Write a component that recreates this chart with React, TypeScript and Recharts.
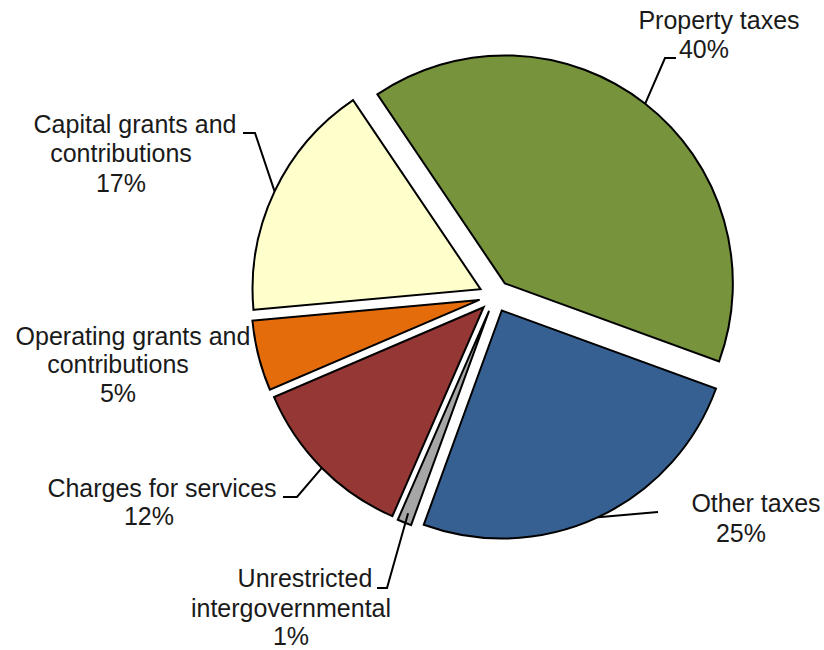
import React from "react";
import { PieChart, Pie, Cell, Sector } from "recharts";

// revenue sources, clockwise from the top
const sources = [
  "Property taxes",
  "Other taxes",
  "Unrestricted intergovernmental",
  "Charges for services",
  "Operating grants and contributions",
  "Capital grants and contributions",
];
const shares = [40, 25, 1, 12, 5, 17];
const labelText = [
  ["Property taxes"],
  ["Other taxes"],
  ["Unrestricted", "intergovernmental"],
  ["Charges for services"],
  ["Operating grants and", "contributions"],
  ["Capital grants and", "contributions"],
];

const colors = ["#77933C", "#376092", "#A6A6A6", "#953735", "#E46C0A", "#FFFFCC"];

const data = sources.map((name, i) => ({ name, value: shares[i] }));

const EXPLODE = 16;
const FONT = "'Liberation Sans', Arial, sans-serif";

// label placement relative to the pie centre: line centres + baselines, leader elbow/end
type LabelPos = {
  lines: [number, number][];
  leader?: [number, number][];
  inset?: number;
};
const labelPos: LabelPos[] = [
  { lines: [[224, -267], [209, -238], [209, -238]], leader: [[170, -238], [181, -238]] },
  { lines: [[261, 216], [246, 246]], leader: [[163, 216]] },
  { lines: [[-190, 291], [-204, 321], [-204, 349]], leader: [[-108, 292], [-118, 292]], inset: 10 },
  { lines: [[-333, 201], [-346, 229]], leader: [[-198, 201], [-212, 201]] },
  { lines: [[-362, 49], [-377, 77], [-377, 106]] },
  { lines: [[-360, -163], [-374, -134], [-374, -104]], leader: [[-240, -163], [-252, -163]] },
];

const RAD = Math.PI / 180;

const renderSlice = (props: any) => {
  const { cx, cy, midAngle } = props;
  const dx = EXPLODE * Math.cos(-midAngle * RAD);
  const dy = EXPLODE * Math.sin(-midAngle * RAD);
  return <Sector {...props} cx={cx + dx} cy={cy + dy} />;
};

const renderLabel = (props: any) => {
  const { cx, cy, midAngle, outerRadius, index, percent } = props;
  const pos = labelPos[index];
  const lines = [...labelText[index], `${Math.round(percent * 100)}%`];
  const cos = Math.cos(-midAngle * RAD);
  const sin = Math.sin(-midAngle * RAD);
  const r = outerRadius - (pos.inset || 0);
  const sx = cx + EXPLODE * cos + r * cos;
  const sy = cy + EXPLODE * sin + r * sin;
  return (
    <g>
      {pos.leader && (
        <polyline
          points={[[sx - cx, sy - cy], ...pos.leader].map(([x, y]) => `${cx + x},${cy + y}`).join(" ")}
          fill="none"
          stroke="#000"
          strokeWidth={2}
        />
      )}
      {lines.map((t, k) => (
        <text
          key={k}
          x={cx + pos.lines[k][0]}
          y={cy + pos.lines[k][1]}
          textAnchor="middle"
          fontFamily={FONT}
          fontSize={25}
          fill="#1a1a1a"
        >
          {t}
        </text>
      ))}
    </g>
  );
};

export default function App() {
  return (
    <div style={{ position: "absolute", left: 0, top: 0, background: "#fff" }}>
      <PieChart width={824} height={650} margin={{ top: 0, right: 0, bottom: 0, left: 0 }}>
        <Pie
          data={data}
          dataKey="value"
          nameKey="name"
          cx={495}
          cy={296}
          outerRadius={228}
          startAngle={124}
          endAngle={-236}
          stroke="#000"
          strokeWidth={2}
          shape={renderSlice}
          label={renderLabel}
          labelLine={false}
          isAnimationActive={false}
        >
          {data.map((d, i) => (
            <Cell key={d.name} fill={colors[i]} />
          ))}
        </Pie>
      </PieChart>
    </div>
  );
}
